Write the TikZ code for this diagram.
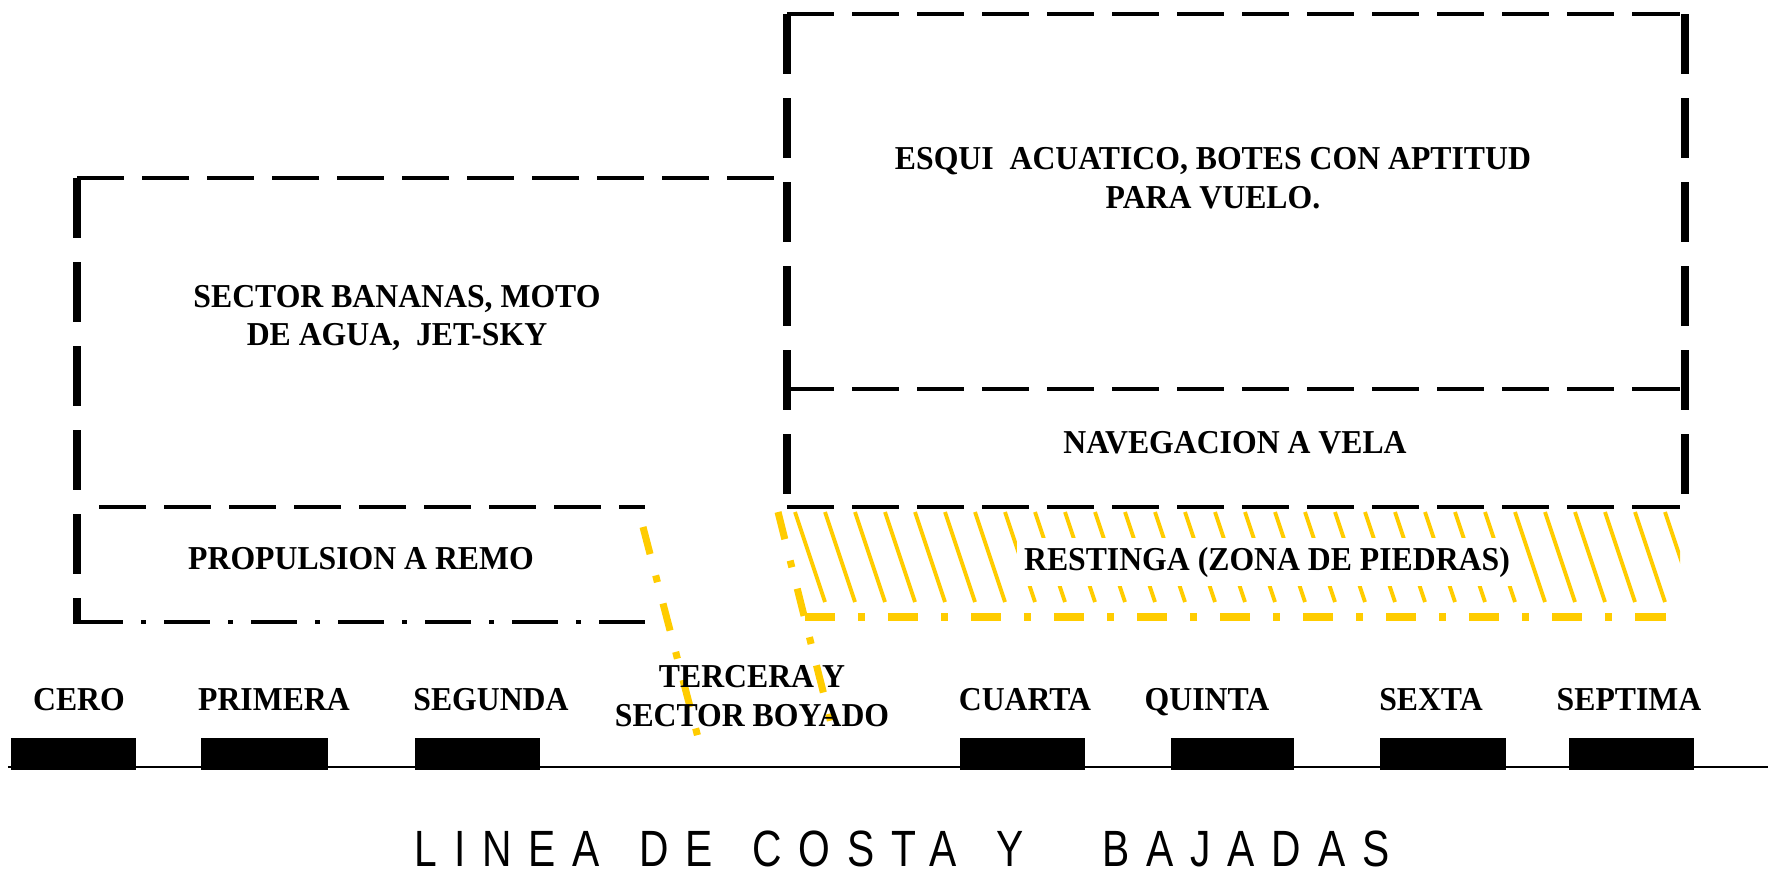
\documentclass[tikz,border=0pt]{standalone}
\usepackage{fontspec}
\setmainfont{Liberation Serif}[FakeStretch=0.95]
\newfontfamily\costafont{Liberation Sans}[FakeStretch=0.8,LetterSpace=33,WordSpace=1.4]
\definecolor{zona}{RGB}{255,204,0}

\begin{document}
\begin{tikzpicture}[x=0.01cm, y=-0.01cm,
    hdash/.style={line width=1.4pt, dash pattern=on 0.47cm off 0.18cm},
    vdash/.style={line width=2.1pt, dash pattern=on 0.6cm off 0.24cm},
    dashdot/.style={line width=1.4pt, dash pattern=on 0.46cm off 0.18cm on 0.05cm off 0.18cm},
    ydashdot/.style={zona, line width=2pt, dash pattern=on 0.28cm off 0.22cm on 0.07cm off 0.22cm},
    hatch/.style={zona, line width=1.1pt},
    rotulo/.style={font=\fontsize{9.5}{11}\selectfont\bfseries, align=center, inner sep=1pt},
    bajada/.style={font=\fontsize{9.5}{11}\selectfont\bfseries, inner sep=1pt, text height=1.5ex, text depth=0.3ex},
  ]
    \useasboundingbox (0,0) rectangle (1771,872);

    % sector bananas y remo
    \draw[hdash] (77,178) -- (785,178);
    \draw[vdash] (77,178) -- (77,624);
    \draw[hdash] (99,507) -- (645,507);
    \draw[dashdot] (77,622) -- (645,622);

    % esqui y vela
    \draw[hdash] (787,14) -- (1685,14);
    \draw[vdash] (787,14) -- (787,507);
    \draw[vdash] (1685,14) -- (1685,507);
    \draw[hdash] (787,389) -- (1685,389);
    \draw[hdash] (787,507) -- (1685,507);

    % restinga
    \begin{scope}
        \clip (700,500) rectangle (1680,610);
        \foreach \k in {0,...,29}
            \draw[hatch] (795+30*\k,512) -- (825+30*\k,602);
    \end{scope}
    \draw[ydashdot] (643,527) -- (700,745);
    \draw[ydashdot] (778,512) -- (834,735);
    \draw[ydashdot, dash pattern=on 0.3cm off 0.23cm on 0.07cm off 0.23cm] (805,617) -- (1680,617);

    \node[rotulo] (esqui) at (1213,178) {ESQUI~ ACUATICO, BOTES CON APTITUD\\PARA VUELO.};
    \node[rotulo] (bananas) at (397,318) {SECTOR BANANAS, MOTO\\DE AGUA,~ JET-SKY};
    \node[rotulo] (vela) at (1235,443) {NAVEGACION A VELA};
    \node[rotulo] (remo) at (361,559) {PROPULSION A REMO};
    \node[rotulo, fill=white, inner xsep=2pt, inner ysep=2.5pt] (restinga) at (1267,562) {RESTINGA (ZONA DE PIEDRAS)};

    % bajadas
    \draw[line width=0.6pt] (8,767) -- (1768,767);
    \fill (11,738) rectangle (136,770);
    \fill (201,738) rectangle (328,770);
    \fill (415,738) rectangle (540,770);
    \fill (960,738) rectangle (1085,770);
    \fill (1171,738) rectangle (1294,770);
    \fill (1380,738) rectangle (1506,770);
    \fill (1569,738) rectangle (1694,770);

    \node[bajada] (cero) at (79,701) {CERO};
    \node[bajada] (primera) at (274,701) {PRIMERA};
    \node[bajada] (segunda) at (491,701) {SEGUNDA};
    \node[rotulo] (tercera) at (752,696) {TERCERA Y\\SECTOR BOYADO};
    \node[bajada] (cuarta) at (1025,701) {CUARTA};
    \node[bajada] (quinta) at (1207,701) {QUINTA};
    \node[bajada] (sexta) at (1431,701) {SEXTA};
    \node[bajada] (septima) at (1629,701) {SEPTIMA};

    \node[font=\costafont\fontsize{14.5}{16}\selectfont, anchor=base, inner sep=0pt] (costa) at (902,866) {LINEA DE COSTA Y~ BAJADAS};
\end{tikzpicture}
\end{document}
